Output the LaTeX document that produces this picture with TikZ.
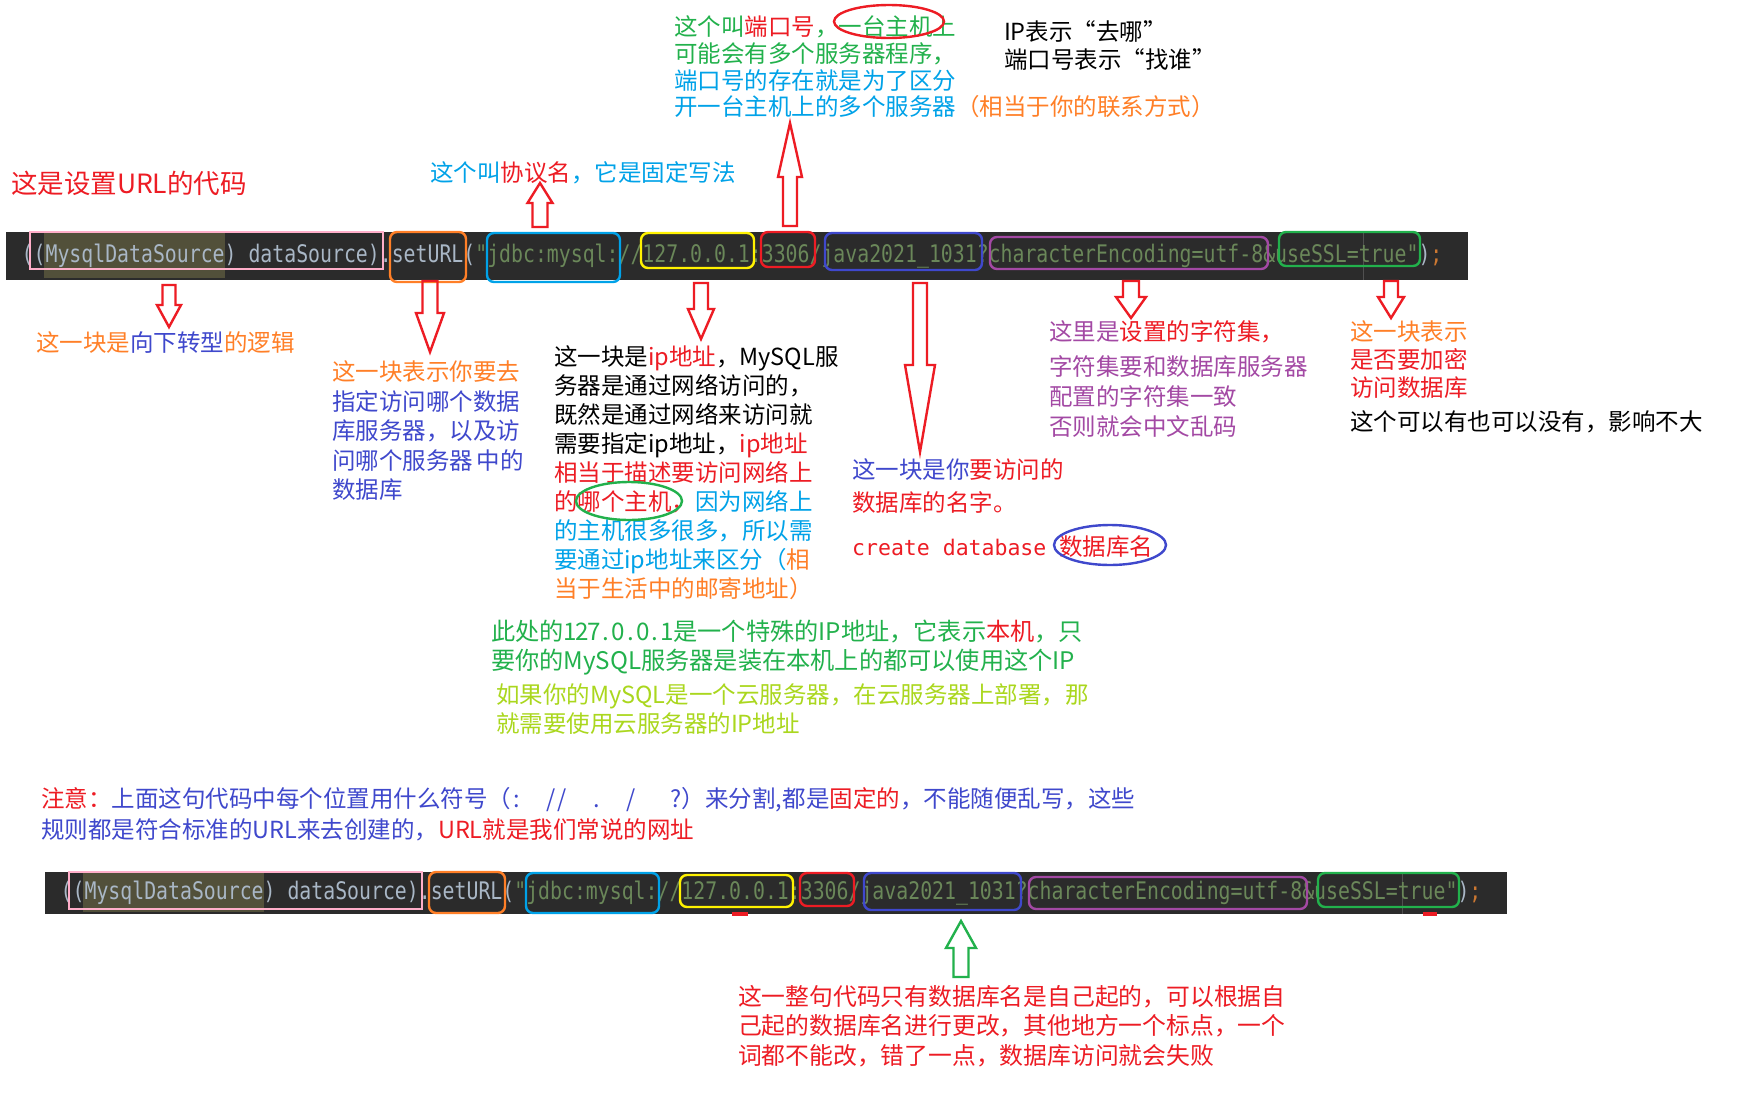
\documentclass[tikz,border=0pt]{standalone}
\usepackage{fontspec}
\setmainfont{Noto Sans CJK SC}
\setmonofont{DejaVu Sans Mono}
\definecolor{pred}{RGB}{237,28,36}
\definecolor{porange}{RGB}{255,127,39}
\definecolor{pyellow}{RGB}{255,242,0}
\definecolor{pgreen}{RGB}{34,177,76}
\definecolor{pcyan}{RGB}{0,162,232}
\definecolor{pindigo}{RGB}{63,72,204}
\definecolor{ppurple}{RGB}{163,73,164}
\definecolor{ppink}{RGB}{255,174,201}
\definecolor{plime}{RGB}{170,215,30}
\definecolor{codebg}{RGB}{43,43,43}
\definecolor{codefg}{RGB}{169,183,198}
\definecolor{codestr}{RGB}{106,135,89}
\definecolor{codekw}{RGB}{204,120,50}
\definecolor{codehl}{RGB}{82,80,58}
\definecolor{codeln}{RGB}{80,80,80}
\newcommand{\tred}[1]{\textcolor{pred}{#1}}
\newcommand{\torange}[1]{\textcolor{porange}{#1}}
\newcommand{\tgreen}[1]{\textcolor{pgreen}{#1}}
\newcommand{\tcyan}[1]{\textcolor{pcyan}{#1}}
\newcommand{\tindigo}[1]{\textcolor{pindigo}{#1}}
\newcommand{\tpurple}[1]{\textcolor{ppurple}{#1}}
\newcommand{\tlime}[1]{\textcolor{plime}{#1}}
\newcommand{\fl}{\rule{0pt}{0.9em}}
\newcommand{\cjksize}[1]{\fontsize{23.5}{#1}\selectfont}
% half-width cell for latin characters
\newcommand{\hb}[2][11.4pt]{\makebox[#1]{#2}}
\newcommand{\mycodeline}{\scalebox{1}[1.22]{{\color{codefg}((MysqlDataSource) dataSource).setURL(}{\color{codestr}"jdbc:mysql://127.0.0.1:3306/java2021\_1031?characterEncoding=utf-8\&useSSL=true"}{\color{codefg})}{\color{codekw};}}}
% hollow block arrow: style, x, y tail, y head base, y tip, half shaft, half head
\newcommand{\hollowarr}[7]{\draw[#1] ({#2-#6},#3) -- ({#2-#6},#4) -- ({#2-#7},#4) -- (#2,#5) -- ({#2+#7},#4) -- ({#2+#6},#4) -- ({#2+#6},#3) -- cycle;}
% code box node: name, style, x1, y1, x2, y2
\newcommand{\cbx}[6]{\node[cbox,#2,minimum width={#5-#3},minimum height={#6-#4}] (#1) at ({(#3+#5)/2},{(#4+#6)/2}) {};}
\tikzset{
  cbox/.style={line width=2.4pt, rounded corners=7pt, inner sep=0pt, outer sep=0pt},
  harrow/.style={draw=pred, line width=2.4pt, line join=miter},
  garrow/.style={draw=pgreen, line width=2.4pt, line join=miter},
  txt/.style={anchor=north west, inner sep=0pt, outer sep=0pt, align=left},
  ring/.style={line width=2.4pt},
  codetext/.style={anchor=base west, inner sep=0pt, font=\ttfamily\fontsize{19.83}{24}\selectfont},
}
\begin{document}
\begin{tikzpicture}[x=1pt,y=-1pt]
\useasboundingbox[fill=white] (0,0) rectangle (1737,1119);

% ---------- top texts ----------
\node[txt, font=\fontsize{26.5}{30}\selectfont] (title) at (11,169.2) {\fl\tred{这是设置URL的代码}};
\node[txt, font=\cjksize{26.7}] (port) at (674,14.5) {\fl\tgreen{这个叫}\tred{端口号}\tgreen{，一台主机上}\\
\tgreen{可能会有多个服务器程序，}\\
\tcyan{端口号的存在就是为了区分}\\
\tcyan{开一台主机上的多个服务器}\torange{（相当于你的联系方式）}};
\draw[ring, pred] (889,21.5) ellipse [x radius=55pt, y radius=16.5pt];
\node[txt, font=\cjksize{28}] (ipnote) at (1004,19.5) {\fl IP表示“去哪”\\端口号表示“找谁”};
\node[txt, font=\cjksize{29}] (proto) at (430,160.8) {\fl\tcyan{这个叫}\tred{协议名}\tcyan{，它是固定写法}};

% ---------- code bar 1 ----------
\fill[codebg] (6,232) rectangle (1468,280);
\fill[codehl] (44,233) rectangle (224.5,278);
\draw[codeln, line width=0.8pt] (1363,233) -- (1363,280);
\node[codetext] (code1) at (21.5,262.5) {\mycodeline};
\cbx{pk1}{draw=ppink,sharp corners}{30}{232}{383}{269}
\cbx{or1}{draw=porange}{390}{232}{466}{282}
\cbx{cy1}{draw=pcyan}{487}{233}{620}{282}
\cbx{ye1}{draw=pyellow}{641}{233}{754}{268}
\cbx{re1}{draw=pred}{761}{232}{815}{267}
\cbx{in1}{draw=pindigo}{825}{233}{982}{270}
\cbx{pu1}{draw=ppurple}{990}{237}{1268}{269}
\cbx{gr1}{draw=pgreen}{1279}{232}{1420}{266}

% ---------- arrows ----------
\hollowarr{harrow}{169}{285}{305}{327}{6.5}{12}
\hollowarr{harrow}{430}{281}{313}{352}{7.5}{14}
\hollowarr{harrow}{701}{283}{309}{339}{7}{13}
\hollowarr{harrow}{920}{283}{365}{452}{7}{15}
\hollowarr{harrow}{1131}{281}{297}{318}{8}{15}
\hollowarr{harrow}{1391}{281}{297}{318}{7}{13}
\hollowarr{harrow}{540}{227}{203}{183}{7.5}{12.5}
\hollowarr{harrow}{790}{226}{177}{123}{7}{12}

% ---------- labels under bar 1 ----------
\node[txt, font=\cjksize{29}] (cast) at (36,330.8) {\fl\torange{这一块是}\tindigo{向下转型}\torange{的逻辑}};
\node[txt, font=\cjksize{29.5}] (server) at (332,359.8) {\fl\torange{这一块表示你要去}\\
\tindigo{指定访问哪个数据}\\
\tindigo{库服务器，以及访}\\
\tindigo{问哪个服务器\,中的}\\
\tindigo{数据库}};
\node[txt, font=\cjksize{28.9}] (ipblk) at (554,344.8) {\fl 这一块是\tred{ip地址}，MySQL服\\
务器是通过网络访问的，\\
既然是通过网络来访问就\\
需要指定ip地址，\tred{ip地址}\\
\tred{相当于描述要访问网络上}\\
\tred{的哪个主机，}\tcyan{因为网络上}\\
\tcyan{的主机很多很多，所以需}\\
\tcyan{要通过ip地址来区分（}\torange{相}\\
\torange{当于生活中的邮寄地址）}};
\draw[ring, pgreen] (629,501) ellipse [x radius=53pt, y radius=19pt];
\node[txt, font=\cjksize{33}] (dbname) at (852,457.8) {\fl\tindigo{这一块是你}\tred{要访问的}\\
\tred{数据库的名字。}};
\node[anchor=base west, inner sep=0pt] (create) at (852,555) {\tred{{\ttfamily\fontsize{21.5}{24}\selectfont create database }{\cjksize{28}数据库名}}};
\draw[ring, pindigo] (1110,545) ellipse [x radius=56pt, y radius=20pt];
\node[txt, font=\cjksize{30}] (cs1) at (1049,319.5) {\fl\tpurple{这里是}\tred{设置的字符集，}};
\node[txt, font=\cjksize{30}] (cs2) at (1049,354.5) {\fl\tpurple{字符集要和数据库服务器}\\
\tpurple{配置的字符集一致}\\
\tpurple{否则就会中文乱码}};
\node[txt, font=\cjksize{28}] (ssl1) at (1350,319.8) {\fl\torange{这一块表示}\\
\tred{是否要加密}\\
\tred{访问数据库}};
\node[txt, font=\cjksize{28}] (ssl2) at (1350,409.5) {\fl 这个可以有也可以没有，影响不大};

% ---------- middle notes ----------
\node[txt, font=\fontsize{24.2}{28.3}\selectfont] (local) at (491,619.2) {\fl\tgreen{此处的\hb[12.2pt]{1}\hb[12.2pt]{2}\hb[12.2pt]{7}\hb[12.2pt]{.}\hb[12.2pt]{0}\hb[12.2pt]{.}\hb[12.2pt]{0}\hb[12.2pt]{.}\hb[12.2pt]{1}是一个特殊的IP地址，它表示}\tred{本机}\tgreen{，只}\\
\tgreen{要你的MySQL服务器是装在本机上的都可以使用这个IP}};
\node[txt, font=\cjksize{28.3}] (cloud) at (496,682.8) {\fl\tlime{如果你的MySQL是一个云服务器，在云服务器上部署，那}\\
\tlime{就需要使用云服务器的IP地址}};
\node[txt, font=\cjksize{31.7}] (note) at (41,786) {\fl\tred{注意：}\tindigo{上面这句代码中每个位置用什么符号（\hb{:}\hb{}\hb{}\hb{/}\hb{/}\hb{}\hb{}\hb{.}\hb{}\hb{}\hb{/}\hb{}\hb{}\hb{}\hb{?}）来分割,都是}\tred{固定的}\tindigo{，不能随便乱写，这些}\\
\tindigo{规则都是符合标准的URL来去创建的，}\tred{URL就是我们常说的网址}};

% ---------- code bar 2 ----------
\fill[codebg] (45,872) rectangle (1507,914);
\fill[codehl] (83,872) rectangle (263.5,912);
\draw[codeln, line width=0.8pt] (1402,872) -- (1402,914);
\node[codetext] (code2) at (60.5,899.5) {\mycodeline};
\cbx{pk2}{draw=ppink,sharp corners}{69}{872}{422}{909}
\cbx{or2}{draw=porange}{429}{872}{505}{913}
\cbx{cy2}{draw=pcyan}{526}{873}{659}{913}
\cbx{ye2}{draw=pyellow}{680}{875}{793}{907}
\cbx{re2}{draw=pred}{800}{873}{854}{906}
\cbx{in2}{draw=pindigo}{864}{873}{1021}{910}
\cbx{pu2}{draw=ppurple}{1029}{877}{1307}{909}
\cbx{gr2}{draw=pgreen}{1318}{873}{1459}{907}
\fill[pred] (732,912) rectangle (748,916);
\fill[pred] (1423,912) rectangle (1437,916);

% ---------- bottom ----------
\hollowarr{garrow}{961}{977}{948}{921}{7.5}{15}
\node[txt, font=\fontsize{23.8}{29.2}\selectfont] (final) at (738,984.3) {\fl\tred{这一整句代码只有数据库名是自己起的，可以根据自}\\
\tred{己起的数据库名进行更改，其他地方一个标点，一个}\\
\tred{词都不能改，错了一点，数据库访问就会失败}};
\end{tikzpicture}
\end{document}
